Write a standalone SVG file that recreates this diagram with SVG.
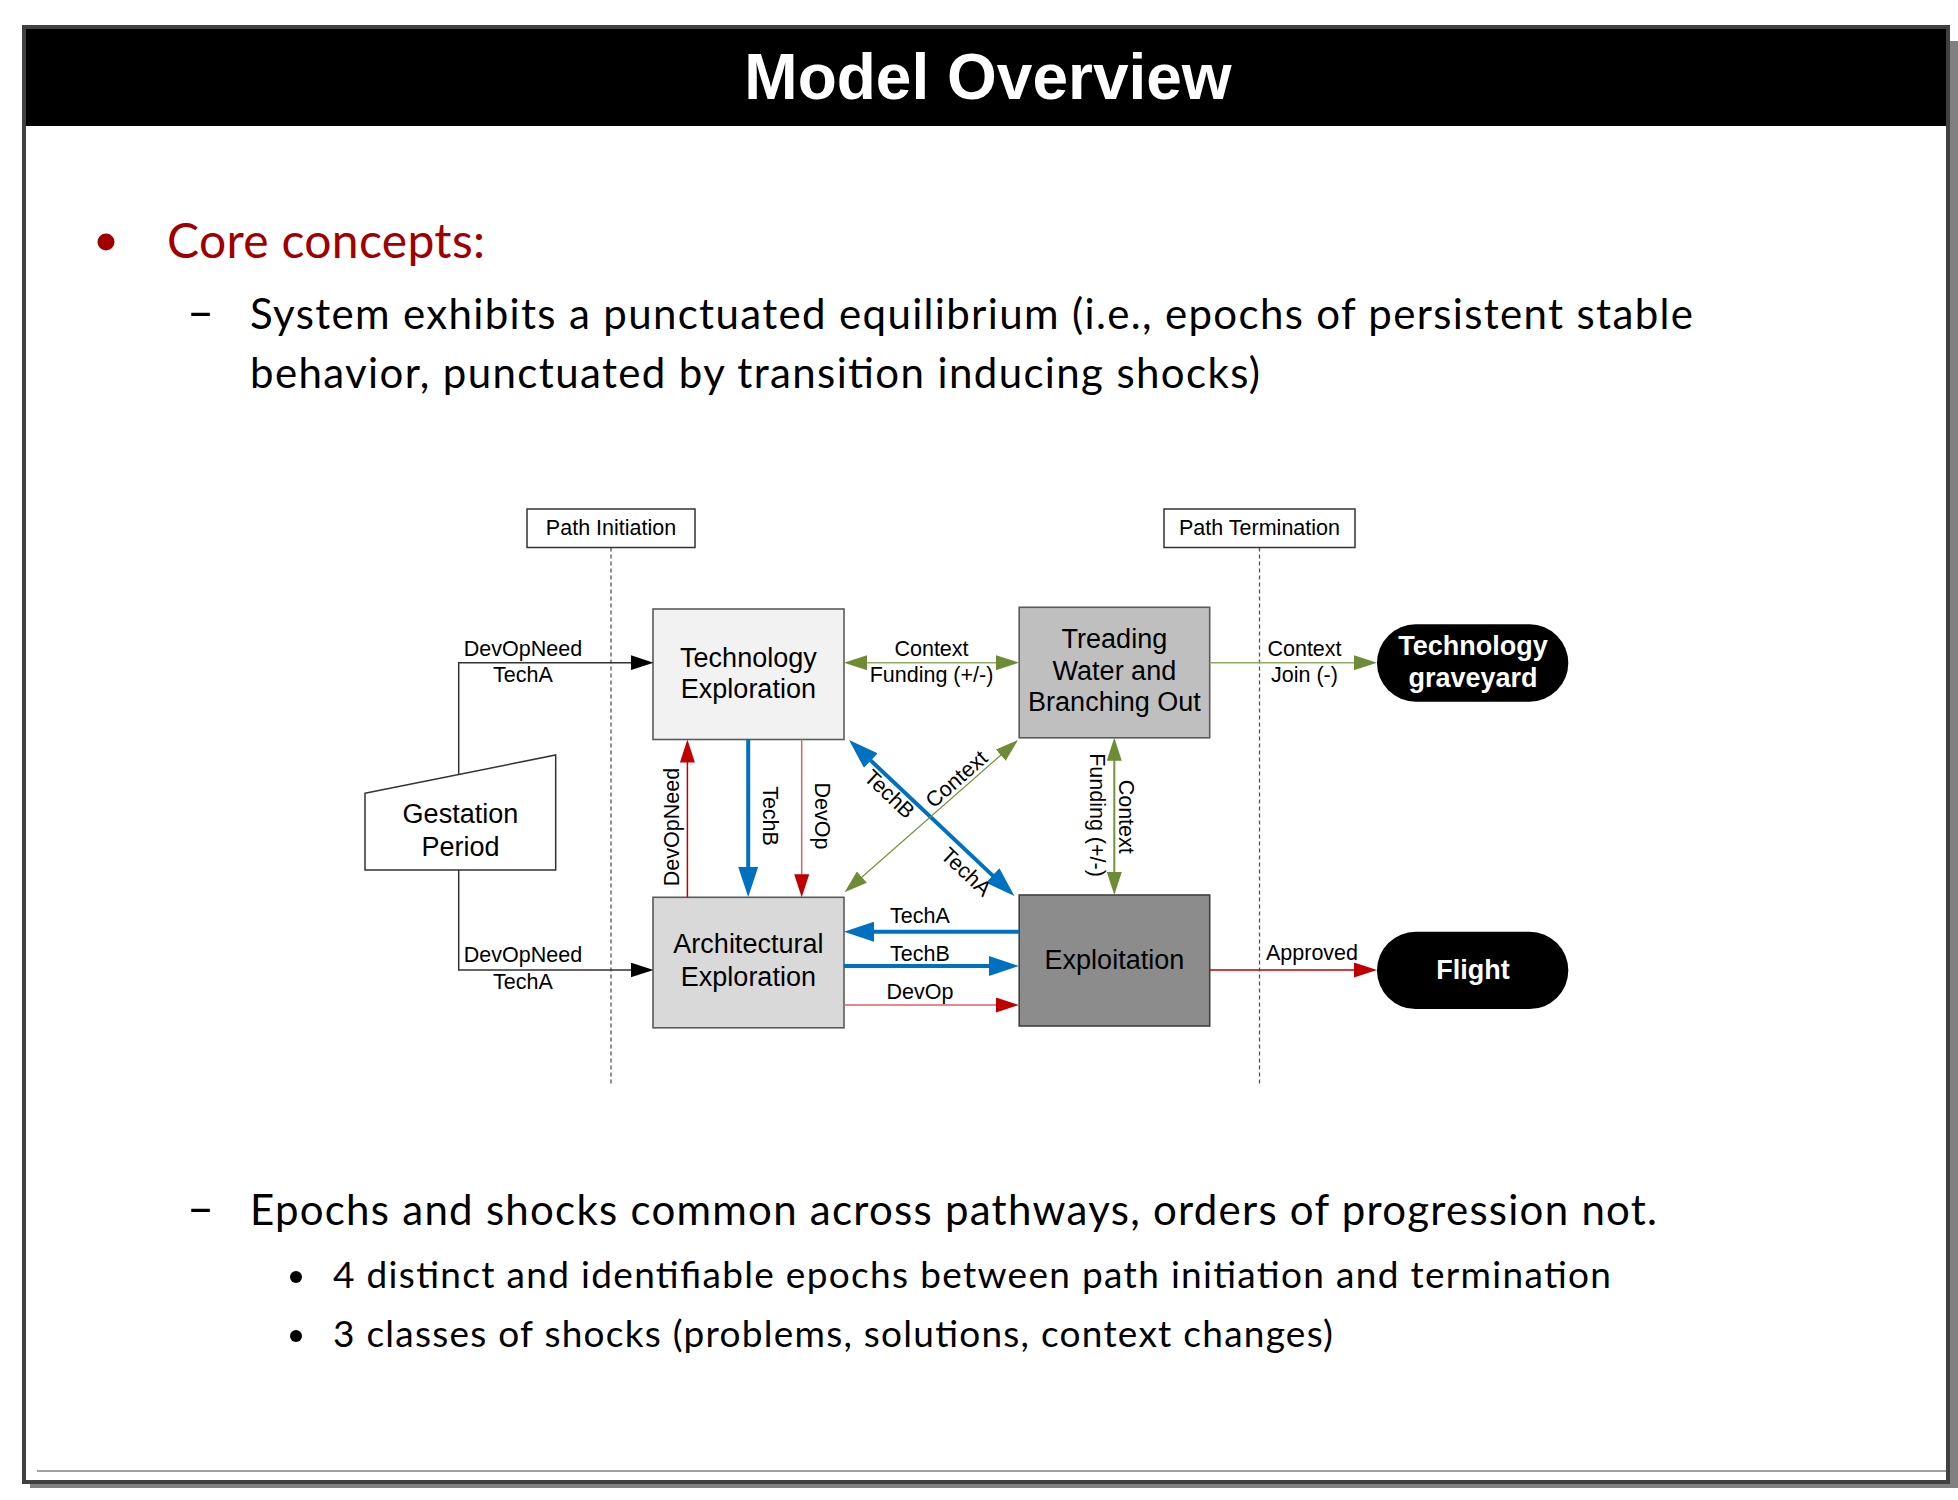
<svg xmlns="http://www.w3.org/2000/svg" width="1958" height="1500" viewBox="0 0 1958 1500">
<style>
.body{font-family:Lato,"Liberation Sans",sans-serif;fill:#000}
.dia{font-family:"Liberation Sans",Arial,sans-serif;fill:#000}
.lbl{font-size:21.5px}
.box{font-size:27px}
.mid{text-anchor:middle}
.wb{font-family:"Liberation Sans",Arial,sans-serif;font-weight:bold;font-size:27px;fill:#fff;text-anchor:middle}
.nodebox{stroke:#5a5a5a;stroke-width:1.6}
.tag{fill:#fff;stroke:#333;stroke-width:1.5}
.dash{stroke:#555;stroke-width:1.3;stroke-dasharray:4 3;fill:none}
.blk{stroke:#333;stroke-width:1.5;fill:none}
.blue{stroke:#0070C0;stroke-width:4;fill:none}
.red{stroke:#C00000;stroke-width:1.5;fill:none}
.pink{stroke:#E06060;stroke-width:1.5;fill:none}
.grn{stroke:#8FAA62;stroke-width:1.5;fill:none}
.grnd{stroke:#76923C;stroke-width:2;fill:none}
</style>
<defs>
<marker id="mk" markerUnits="userSpaceOnUse" markerWidth="23" markerHeight="15" viewBox="0 0 23 15" refX="1" refY="7.5" orient="auto-start-reverse"><path d="M0,0 L23,7.5 L0,15 Z" fill="#000"/></marker>
<marker id="mg" markerUnits="userSpaceOnUse" markerWidth="23" markerHeight="15" viewBox="0 0 23 15" refX="1" refY="7.5" orient="auto-start-reverse"><path d="M0,0 L23,7.5 L0,15 Z" fill="#6E8B35"/></marker>
<marker id="mr" markerUnits="userSpaceOnUse" markerWidth="23" markerHeight="15" viewBox="0 0 23 15" refX="1" refY="7.5" orient="auto-start-reverse"><path d="M0,0 L23,7.5 L0,15 Z" fill="#C00000"/></marker>
<marker id="mb" markerUnits="userSpaceOnUse" markerWidth="30" markerHeight="20" viewBox="0 0 30 20" refX="1" refY="10" orient="auto-start-reverse"><path d="M0,0 L30,10 L0,20 Z" fill="#0070C0"/></marker>
</defs>

<g id="slide-frame">
<rect x="30" y="41" width="1928" height="1447" fill="#808080"/>
<rect x="24" y="27" width="1924" height="1455" fill="#fff" stroke="#404040" stroke-width="4"/>
<rect x="26" y="29" width="1920" height="97" fill="#000"/>
<line x1="37" y1="1471" x2="1946" y2="1471" stroke="#A0A0A0" stroke-width="2"/>
<text x="988" y="99" text-anchor="middle" font-family="'Liberation Sans',Arial,sans-serif" font-weight="bold" font-size="64" fill="#fff">Model Overview</text>
</g>

<g id="bullets">
<circle cx="106" cy="242" r="8.5" fill="#A00000"/>
<text class="body" x="167" y="258" font-size="48" fill="#A00000" style="fill:#A00000" textLength="318">Core concepts:</text>
<text class="body" x="187" y="329" font-size="48" textLength="27" lengthAdjust="spacingAndGlyphs">–</text>
<text class="body" x="250" y="329" font-size="42" textLength="1443">System exhibits a punctuated equilibrium (i.e., epochs of persistent stable</text>
<text class="body" x="250" y="388" font-size="42" textLength="1010">behavior, punctuated by transition inducing shocks)</text>
<text class="body" x="187" y="1225" font-size="48" textLength="27" lengthAdjust="spacingAndGlyphs">–</text>
<text class="body" x="250" y="1225" font-size="42" textLength="1407">Epochs and shocks common across pathways, orders of progression not.</text>
<circle cx="296" cy="1277" r="6" fill="#000"/>
<text class="body" x="333" y="1288" font-size="37" textLength="1278">4 distinct and identifiable epochs between path initiation and termination</text>
<circle cx="296" cy="1336" r="6" fill="#000"/>
<text class="body" x="333" y="1347" font-size="37" textLength="1000">3 classes of shocks (problems, solutions, context changes)</text>
</g>

<g id="swimlanes">
<line class="dash" x1="611" y1="547.5" x2="611" y2="1085"/>
<line class="dash" x1="1259.5" y1="547.5" x2="1259.5" y2="1085"/>
</g>

<g id="node-path-initiation">
<rect class="tag" x="527" y="509" width="168" height="38.5"/>
<text class="dia lbl mid" x="611" y="535">Path Initiation</text>
</g>
<g id="node-path-termination">
<rect class="tag" x="1164" y="509" width="191" height="38.5"/>
<text class="dia lbl mid" x="1259.5" y="535">Path Termination</text>
</g>

<g id="node-gestation">
<path d="M365,793.3 L555.7,755 L555.7,870 L365,870 Z" fill="#fff" stroke="#333" stroke-width="1.5"/>
<text class="dia box mid" x="460.4" y="823">Gestation</text>
<text class="dia box mid" x="460.4" y="856">Period</text>
</g>

<g id="node-tech-exploration">
<rect class="nodebox" x="653" y="609" width="191" height="130.5" fill="#F2F2F2"/>
<text class="dia box mid" x="748.4" y="666.5">Technology</text>
<text class="dia box mid" x="748.4" y="698.3">Exploration</text>
</g>

<g id="node-arch-exploration">
<rect class="nodebox" x="653" y="897.3" width="191" height="130.5" fill="#D9D9D9"/>
<text class="dia box mid" x="748.4" y="953.3">Architectural</text>
<text class="dia box mid" x="748.4" y="986">Exploration</text>
</g>

<g id="node-treading">
<rect class="nodebox" x="1019.2" y="607.3" width="190.5" height="130.5" fill="#BFBFBF"/>
<text class="dia box mid" x="1114.4" y="648">Treading</text>
<text class="dia box mid" x="1114.4" y="679.5">Water and</text>
<text class="dia box mid" x="1114.4" y="711">Branching Out</text>
</g>

<g id="node-exploitation">
<rect x="1019.2" y="895" width="190.5" height="131" fill="#8C8C8C" stroke="#404040" stroke-width="1.6"/>
<text class="dia box mid" x="1114.4" y="969">Exploitation</text>
</g>

<g id="node-graveyard">
<rect x="1377" y="624.3" width="191.3" height="77.4" rx="38.7" ry="38.7" fill="#000"/>
<text class="wb" x="1473" y="655">Technology</text>
<text class="wb" x="1473" y="687">graveyard</text>
</g>

<g id="node-flight">
<rect x="1377" y="931.7" width="191.3" height="77.4" rx="38.7" ry="38.7" fill="#000"/>
<text class="wb" x="1473" y="979">Flight</text>
</g>

<g id="connectors">
<path class="blk" d="M458.7,774.5 V662.7 H631.5" marker-end="url(#mk)"/>
<path class="blk" d="M458.7,870 V970 H631.5" marker-end="url(#mk)"/>
<path class="grn" d="M866,662.7 H997" marker-start="url(#mg)" marker-end="url(#mg)"/>
<path class="grn" d="M1209.7,662.7 H1355" marker-end="url(#mg)"/>
<path class="red" d="M1209.7,970 H1355" marker-end="url(#mr)"/>
<path class="red" d="M687.4,897.3 V761.5" marker-end="url(#mr)"/>
<path class="blue" d="M748.2,739.3 V868" marker-end="url(#mb)"/>
<path class="pink" d="M801.7,739.3 V875.3" marker-end="url(#mr)"/>
<path class="grnd" d="M1114.3,759.7 V873" marker-start="url(#mg)" marker-end="url(#mg)"/>
<path class="blue" d="M1019.2,931.7 H873" marker-end="url(#mb)"/>
<path class="blue" d="M843.8,966 H990" marker-end="url(#mb)"/>
<path class="pink" d="M843.8,1005 H997" marker-end="url(#mr)"/>
<path class="blue" d="M870.1,759.9 L993.3,876.1" marker-start="url(#mb)" marker-end="url(#mb)"/>
<path class="grnd" style="stroke-width:1.2" d="M1001.5,754.5 L861.1,877.8" marker-start="url(#mg)" marker-end="url(#mg)"/>

<text class="dia lbl mid" x="523" y="655.7">DevOpNeed</text>
<text class="dia lbl mid" x="523" y="682">TechA</text>
<text class="dia lbl mid" x="523" y="962.3">DevOpNeed</text>
<text class="dia lbl mid" x="523" y="989">TechA</text>
<text class="dia lbl mid" x="931.5" y="656">Context</text>
<text class="dia lbl mid" x="931.5" y="681.7">Funding (+/-)</text>
<text class="dia lbl mid" x="1304.5" y="656">Context</text>
<text class="dia lbl mid" x="1304.5" y="681.7">Join (-)</text>
<text class="dia lbl mid" x="1312" y="960">Approved</text>
<text class="dia lbl mid" x="920" y="922.7">TechA</text>
<text class="dia lbl mid" x="920" y="960.7">TechB</text>
<text class="dia lbl mid" x="920" y="999.3">DevOp</text>
<text class="dia lbl mid" transform="translate(678.5,827) rotate(-90)">DevOpNeed</text>
<text class="dia lbl mid" transform="translate(763,816) rotate(90)">TechB</text>
<text class="dia lbl mid" transform="translate(815,816) rotate(90)">DevOp</text>
<text class="dia lbl mid" transform="translate(1118.5,816.7) rotate(90)">Context</text>
<text class="dia lbl mid" transform="translate(1090,815) rotate(90)">Funding (+/-)</text>
<text class="dia lbl mid" transform="translate(889.7,794) rotate(43.3)" y="7.5">TechB</text>
<text class="dia lbl mid" transform="translate(966.3,871.7) rotate(43.3)" y="7.5">TechA</text>
<text class="dia lbl mid" transform="translate(956.3,779) rotate(-41.3)" y="7.5">Context</text>
</g>
</svg>
